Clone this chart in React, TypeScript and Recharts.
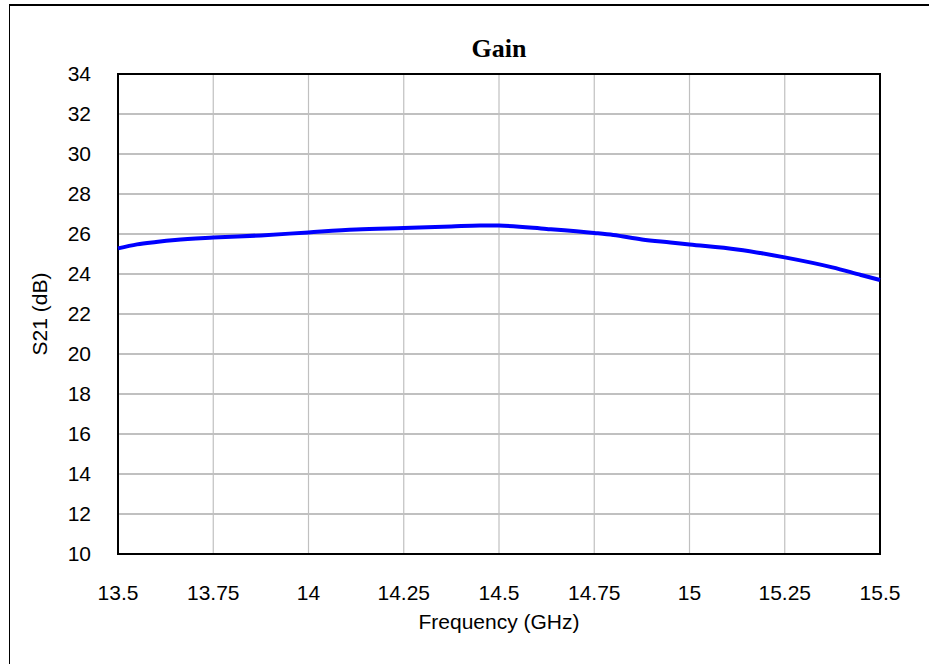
import React from "react";
import { LineChart, Line, XAxis, YAxis, CartesianGrid, ReferenceArea } from "recharts";

const freqGHz = [13.5, 13.55, 13.6, 13.65, 13.75, 13.875, 14.0, 14.125, 14.25, 14.375, 14.45, 14.5, 14.625, 14.75, 14.8, 14.875, 14.95, 15.0, 15.125, 15.25, 15.375, 15.45, 15.5];
const s21dB = [25.28, 25.48, 25.6, 25.7, 25.82, 25.93, 26.08, 26.22, 26.3, 26.38, 26.43, 26.42, 26.25, 26.05, 25.95, 25.73, 25.58, 25.48, 25.23, 24.83, 24.33, 23.95, 23.7];
const xTicks = [13.5, 13.75, 14, 14.25, 14.5, 14.75, 15, 15.25, 15.5];
const yTicks = [10, 12, 14, 16, 18, 20, 22, 24, 26, 28, 30, 32, 34];

const data = freqGHz.map((f, i) => ({ f, g: s21dB[i] }));
const FONT = "'Liberation Sans', Arial, sans-serif";

export default function App() {
  return (
    <div style={{ position: "absolute", left: 0, top: 0, width: 929, height: 664, background: "#fff" }}>
      <div style={{ position: "absolute", left: 9, top: 4, width: 920, height: 660, borderTop: "2px solid #000", borderLeft: "1px solid #000", boxSizing: "border-box" }} />
      <div style={{ position: "absolute", left: 0, top: 0 }}>
        <LineChart width={929} height={664} data={data} margin={{ top: 74, right: 49, left: 0, bottom: 30 }}>
          <CartesianGrid horizontal={false} stroke="#c0c0c0" strokeWidth={1.2} />
          <CartesianGrid vertical={false} stroke="#c0c0c0" strokeWidth={1.8} />
          <XAxis
            dataKey="f"
            type="number"
            domain={[13.5, 15.5]}
            ticks={xTicks}
            height={80}
            axisLine={false}
            tickLine={false}
            tickSize={6}
            tickMargin={25}
            interval={0}
            tick={{ fill: "#000", fontSize: 21, fontFamily: FONT }}
            label={{
              content: (props: any) => {
                const vb = props.viewBox || {};
                return (
                  <text x={vb.x + vb.width / 2} y={629} textAnchor="middle" fontSize={21} fontFamily={FONT} fill="#000">
                    Frequency (GHz)
                  </text>
                );
              },
            }}
          />
          <YAxis
            type="number"
            domain={[10, 34]}
            ticks={yTicks}
            width={118}
            axisLine={false}
            tickLine={false}
            tickSize={6}
            tickMargin={21}
            interval={0}
            tick={{ fill: "#000", fontSize: 21, fontFamily: FONT }}
            label={{
              content: (props: any) => {
                const vb = props.viewBox || {};
                const cy = vb.y + vb.height / 2;
                return (
                  <text x={39} y={cy} transform={`rotate(-90, 39, ${cy})`} textAnchor="middle" dominantBaseline="central" fontSize={21} fontFamily={FONT} fill="#000">
                    S21 (dB)
                  </text>
                );
              },
            }}
          />
          <ReferenceArea
            x1={13.5}
            x2={15.5}
            y1={10}
            y2={34}
            fill="none"
            fillOpacity={0}
            stroke="#000"
            strokeWidth={2}
            ifOverflow="visible"
            label={{
              content: (props: any) => {
                const vb = props.viewBox || {};
                return (
                  <text x={vb.x + vb.width / 2} y={57} textAnchor="middle" fontSize={26} fontWeight="bold" fontFamily="'Liberation Serif', 'Times New Roman', serif" fill="#000">
                    Gain
                  </text>
                );
              },
            }}
          />
          <Line type="monotone" dataKey="g" stroke="#0000ff" strokeWidth={4} dot={false} isAnimationActive={false} />
        </LineChart>
      </div>
    </div>
  );
}
